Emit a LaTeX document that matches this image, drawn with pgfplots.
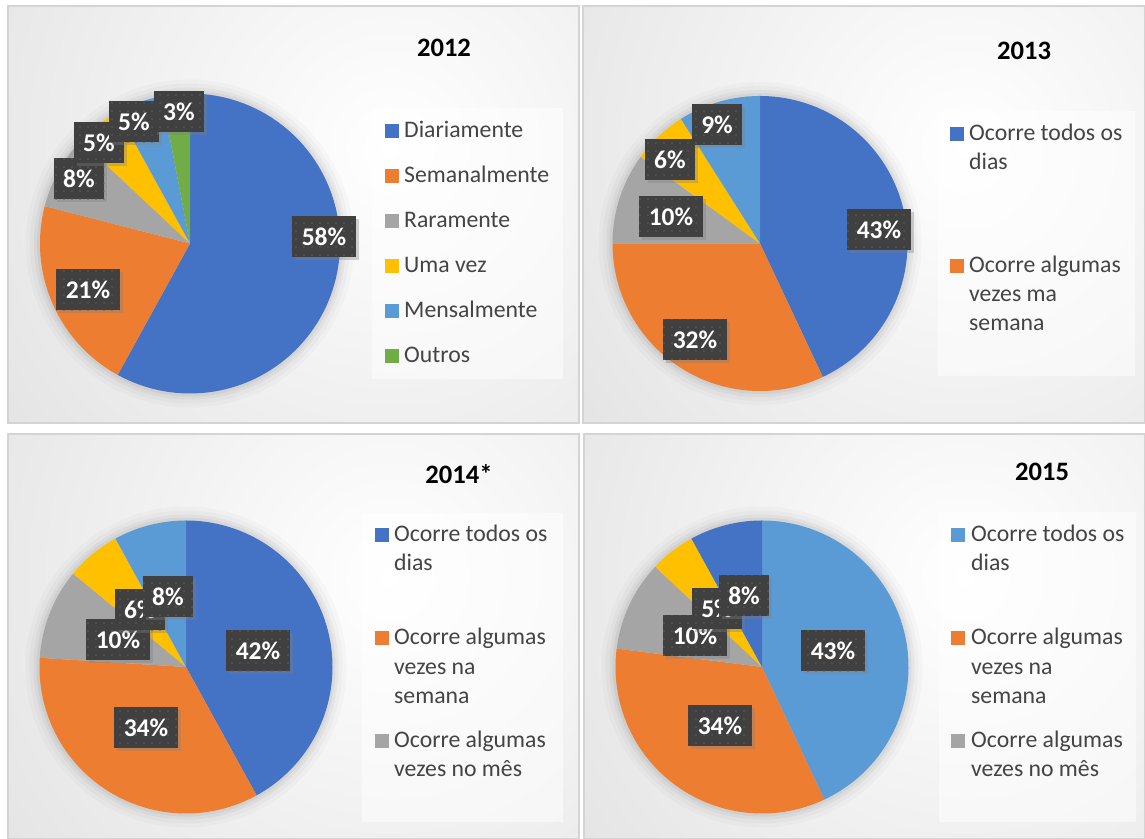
\documentclass[border=0pt]{standalone}
\usepackage{pgfplots}
\pgfplotsset{compat=1.18}
\usepackage{fontspec}
\setmainfont{Carlito}
\usetikzlibrary{patterns,shadows}

\definecolor{cBlue}{HTML}{4472C4}
\definecolor{cOrange}{HTML}{ED7D31}
\definecolor{cGray}{HTML}{A5A5A5}
\definecolor{cYellow}{HTML}{FFC000}
\definecolor{cLBlue}{HTML}{5B9BD5}
\definecolor{cGreen}{HTML}{70AD47}
\definecolor{lblbg}{HTML}{404040}
\definecolor{lbldot}{HTML}{5C5C5C}
\definecolor{panelout}{HTML}{CBCBCB}
\definecolor{panelborder}{HTML}{D4D4D4}
\definecolor{legtext}{HTML}{444444}

\pgfdeclarepatternformonly{lbldots}{\pgfqpoint{-1bp}{-1bp}}{\pgfqpoint{1bp}{1bp}}{\pgfqpoint{8bp}{8bp}}{%
  \pgfpathcircle{\pgfqpoint{0bp}{0bp}}{0.9bp}\pgfusepath{fill}}

% one pie slice: #1 cumulative start (%), #2 value (%), #3 colour
\newcommand{\pieslice}[3]{%
  \pgfmathsetmacro\angA{90-3.6*(#1+#2)}%
  \pgfmathsetmacro\angB{90-3.6*(#1)}%
  \addplot[fill=#3, draw=none, domain=\angA:\angB, samples=90]
    ({cos(x)},{sin(x)}) -- (axis cs:0,0) -- cycle;
}

\newcommand{\panel}[6]{%
  \begin{scope}
    \clip (#1,#2) rectangle (#3,#4);
    \fill[panelout] (#1,#2) rectangle (#3,#4);
    \shade[inner color=white, outer color=panelout] (#5,#6) circle (920);
  \end{scope}
  \draw[panelborder, line width=1.2] (#1,#2) rectangle (#3,#4);
}
\newcommand{\halo}[3]{%
  \foreach \d/\o in {14/0.02,10/0.025,6/0.035,3/0.045}{\fill[black,opacity=\o] (#1,#2) circle ({#3+\d});}}

\tikzset{
  lbl/.style={fill=lblbg, text=white,
    font=\fontsize{25.5bp}{30bp}\selectfont\bfseries,
    inner xsep=9.5bp, inner ysep=0bp, minimum height=41bp,
    drop shadow={shadow xshift=3bp, shadow yshift=-3bp, opacity=0.35},
    postaction={pattern=lbldots, pattern color=lbldot}},
  ttl/.style={font=\fontsize{26.6bp}{32bp}\selectfont\bfseries, text=black, inner sep=0pt},
  leg/.style={font=\fontsize{23.75bp}{29bp}\selectfont, text=legtext, inner sep=0pt, anchor=base west},
  legbox/.style={fill=white, opacity=0.5}
}
\pgfplotsset{
  piestyle/.style={anchor=center, scale only axis, hide axis,
    xmin=-1, xmax=1, ymin=-1, ymax=1, clip=false}
}

\begin{document}
\begin{tikzpicture}[x=1bp,y=1bp]
\useasboundingbox (0,0) rectangle (1145,839);
\fill[white] (0,0) rectangle (1145,839);

% panels
\panel{8}{416}{579}{833}{390}{690}
\panel{583}{416}{1145}{833}{965}{690}
\panel{8}{0}{579}{405}{390}{262}
\panel{584}{0}{1145}{405}{965}{262}

% halos
\halo{190}{595.5}{150}
\halo{760}{595.5}{147.5}
\halo{186}{172}{146.5}
\halo{762}{172}{146.5}

% ---------- 2012 ----------
\begin{axis}[piestyle, at={(190bp,595.5bp)}, width=300bp, height=300bp]
  \pieslice{0}{58}{cBlue}
  \pieslice{58}{21}{cOrange}
  \pieslice{79}{8}{cGray}
  \pieslice{87}{5}{cYellow}
  \pieslice{92}{5}{cLBlue}
  \pieslice{97}{3}{cGreen}
\end{axis}

% ---------- 2013 ----------
\begin{axis}[piestyle, at={(760bp,595.5bp)}, width=295bp, height=295bp]
  \pieslice{0}{43}{cBlue}
  \pieslice{43}{32}{cOrange}
  \pieslice{75}{10}{cGray}
  \pieslice{85}{6}{cYellow}
  \pieslice{91}{9}{cLBlue}
\end{axis}

% ---------- 2014* ----------
\begin{axis}[piestyle, at={(186bp,172bp)}, width=293bp, height=293bp]
  \pieslice{0}{42}{cBlue}
  \pieslice{42}{34}{cOrange}
  \pieslice{76}{10}{cGray}
  \pieslice{86}{6}{cYellow}
  \pieslice{92}{8}{cLBlue}
\end{axis}

% ---------- 2015 ----------
\begin{axis}[piestyle, at={(762bp,172bp)}, width=293bp, height=293bp]
  \pieslice{0}{43}{cLBlue}
  \pieslice{43}{34}{cOrange}
  \pieslice{77}{10}{cGray}
  \pieslice{87}{5}{cYellow}
  \pieslice{92}{8}{cBlue}
\end{axis}

% titles
\node[ttl] at (444,791.5) {2012};
\node[ttl] at (1024,788) {2013};
\node[ttl] at (459,365) {2014*};
\node[ttl] at (1042,367) {2015};

% data labels 2012
\node[lbl] at (324,602) {58\%};
\node[lbl] at (88,549) {21\%};
\node[lbl] at (79,660) {8\%};
\node[lbl] at (99,696) {5\%};
\node[lbl] at (134,717) {5\%};
\node[lbl] at (179,727) {3\%};
% 2013
\node[lbl] at (879,609) {43\%};
\node[lbl] at (695,499) {32\%};
\node[lbl] at (671,622) {10\%};
\node[lbl] at (670,679) {6\%};
\node[lbl] at (717,714) {9\%};
% 2014*
\node[lbl] at (258,188) {42\%};
\node[lbl] at (146,111) {34\%};
\node[lbl] at (118,199) {10\%};
\node[lbl] at (140,229) {6\%};
\node[lbl] at (168,242.5) {8\%};
% 2015
\node[lbl] at (833,188) {43\%};
\node[lbl] at (720,113) {34\%};
\node[lbl] at (695,203) {10\%};
\node[lbl] at (717,230) {5\%};
\node[lbl] at (744,243) {8\%};

% legend 2012
\fill[legbox] (372,460) rectangle (563,731);
\fill[cBlue]   (385,701) rectangle ++(14,14); \node[leg] at (404,701) {Diariamente};
\fill[cOrange] (385,656) rectangle ++(14,14); \node[leg] at (404,656) {Semanalmente};
\fill[cGray]   (385,611) rectangle ++(14,14); \node[leg] at (404,611) {Raramente};
\fill[cYellow] (385,566) rectangle ++(14,14); \node[leg] at (404,566) {Uma vez};
\fill[cLBlue]  (385,521) rectangle ++(14,14); \node[leg] at (404,521) {Mensalmente};
\fill[cGreen]  (385,476) rectangle ++(14,14); \node[leg] at (404,476) {Outros};

% legend 2013
\fill[legbox] (938,463) rectangle (1135,728);
\fill[cBlue]   (950,698) rectangle ++(14,14);
\node[leg] at (969,698) {Ocorre todos os};
\node[leg] at (969,669) {dias};
\fill[cOrange] (950,566) rectangle ++(14,14);
\node[leg] at (969,566) {Ocorre algumas};
\node[leg] at (969,537) {vezes ma};
\node[leg] at (969,508) {semana};

% legend 2014*
\fill[legbox] (362,17) rectangle (563,326);
\fill[cBlue]   (375,297) rectangle ++(14,14);
\node[leg] at (394,297) {Ocorre todos os};
\node[leg] at (394,268) {dias};
\fill[cOrange] (375,194) rectangle ++(14,14);
\node[leg] at (394,194) {Ocorre algumas};
\node[leg] at (394,164) {vezes na};
\node[leg] at (394,135) {semana};
\fill[cGray]   (375,91) rectangle ++(14,14);
\node[leg] at (394,91) {Ocorre algumas};
\node[leg] at (394,62) {vezes no mês};

% legend 2015
\fill[legbox] (939,17) rectangle (1136,327);
\fill[cLBlue]  (951,297) rectangle ++(14,14);
\node[leg] at (971,297) {Ocorre todos os};
\node[leg] at (971,268) {dias};
\fill[cOrange] (951,194) rectangle ++(14,14);
\node[leg] at (971,194) {Ocorre algumas};
\node[leg] at (971,164) {vezes na};
\node[leg] at (971,135) {semana};
\fill[cGray]   (951,91) rectangle ++(14,14);
\node[leg] at (971,91) {Ocorre algumas};
\node[leg] at (971,62) {vezes no mês};
\end{tikzpicture}
\end{document}
